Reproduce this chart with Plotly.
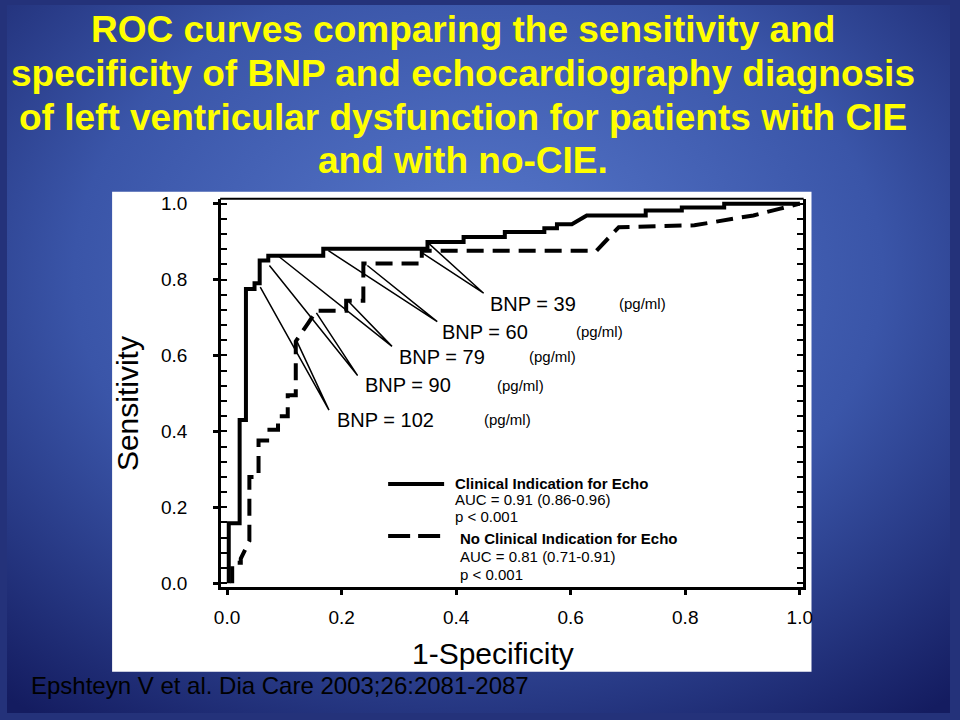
import base64
import plotly.graph_objects as go

W, H = 960, 720

# ---------------- data ----------------
clin_fpr = [0.003, 0.003, 0.022, 0.022, 0.033, 0.033, 0.048, 0.048, 0.057, 0.057, 0.072, 0.072,
            0.168, 0.168, 0.35, 0.35, 0.413, 0.413, 0.485, 0.485, 0.554, 0.554, 0.576, 0.576,
            0.602, 0.628, 0.731, 0.731, 0.794, 0.794, 0.868, 0.868, 1.0]
clin_sens = [0.0, 0.158, 0.158, 0.43, 0.43, 0.775, 0.775, 0.79, 0.79, 0.85, 0.85, 0.863,
             0.863, 0.881, 0.881, 0.899, 0.899, 0.912, 0.912, 0.925, 0.925, 0.935, 0.935, 0.946,
             0.946, 0.969, 0.969, 0.982, 0.982, 0.99, 0.99, 1.0, 1.0]

noclin_fpr = [0.009, 0.009, 0.024, 0.024, 0.039, 0.039, 0.055, 0.055, 0.07, 0.07, 0.089, 0.089,
              0.106, 0.106, 0.12, 0.12, 0.142, 0.156, 0.208, 0.208, 0.238, 0.238, 0.34, 0.34,
              0.645, 0.684, 0.816, 0.873, 0.919, 0.966, 1.0]
noclin_sens = [0.0, 0.054, 0.054, 0.065, 0.111, 0.28, 0.28, 0.376, 0.376, 0.404, 0.404, 0.44,
               0.44, 0.495, 0.495, 0.637, 0.686, 0.718, 0.718, 0.744, 0.744, 0.842, 0.842, 0.876,
               0.876, 0.938, 0.943, 0.956, 0.969, 0.987, 1.0]

tick_vals = [0.0, 0.2, 0.4, 0.6, 0.8, 1.0]
tick_text = ["0.0", "0.2", "0.4", "0.6", "0.8", "1.0"]

bnp_labels = ["BNP = 39", "BNP = 60", "BNP = 79", "BNP = 90", "BNP = 102"]
bnp_label_x = [0.456, 0.372, 0.297, 0.237, 0.189]
bnp_label_y = [0.736, 0.663, 0.596, 0.521, 0.430]
unit_label_x = [0.681, 0.605, 0.523, 0.468, 0.446]
# pointer lines: anchor near the label, target on each curve
ptr_anchor_x = [0.448, 0.367, 0.288, 0.228, 0.178]
ptr_anchor_y = [0.764, 0.689, 0.624, 0.547, 0.456]
ptr_clin_x = [0.353, 0.177, 0.091, 0.074, 0.058]
ptr_clin_y = [0.894, 0.876, 0.860, 0.837, 0.780]
ptr_noclin_x = [0.338, 0.245, 0.213, 0.156, 0.122]
ptr_noclin_y = [0.873, 0.837, 0.741, 0.712, 0.637]

title_lines = ["ROC curves comparing the sensitivity and",
               "specificity of BNP and echocardiography diagnosis",
               "of left ventricular dysfunction for patients with CIE",
               "and with no-CIE."]
legend_clin = ["Clinical Indication for Echo", "AUC = 0.91 (0.86-0.96)", "p < 0.001"]
legend_noclin = ["No Clinical Indication for Echo", "AUC = 0.81 (0.71-0.91)", "p < 0.001"]
footer = "Epshteyn V et al. Dia Care 2003;26:2081-2087"

FONT = "Arial, 'Liberation Sans', sans-serif"


def px(x):
    return x / W


def py(y):
    return 1 - y / H


# ---------------- figure ----------------
fig = go.Figure()

fig.add_trace(go.Scatter(x=clin_fpr, y=clin_sens, mode="lines",
                         line=dict(color="black", width=4), hoverinfo="skip"))
fig.add_trace(go.Scatter(x=noclin_fpr, y=noclin_sens, mode="lines",
                         line=dict(color="black", width=4, dash="17px,9px"), hoverinfo="skip"))

for i in range(len(bnp_labels)):
    fig.add_trace(go.Scatter(x=[ptr_clin_x[i], ptr_anchor_x[i], ptr_noclin_x[i]],
                             y=[ptr_clin_y[i], ptr_anchor_y[i], ptr_noclin_y[i]],
                             mode="lines", line=dict(color="black", width=1.5),
                             hoverinfo="skip"))
    fig.add_annotation(x=bnp_label_x[i], y=bnp_label_y[i], xref="x", yref="y",
                       text=bnp_labels[i], showarrow=False, xanchor="left", yanchor="middle",
                       font=dict(family=FONT, size=20, color="black"))
    fig.add_annotation(x=unit_label_x[i], y=bnp_label_y[i], xref="x", yref="y",
                       text="(pg/ml)", showarrow=False, xanchor="left", yanchor="middle",
                       font=dict(family=FONT, size=15, color="black"))

# right axis with inner ticks
fig.add_trace(go.Scatter(x=[None], y=[None], yaxis="y2", showlegend=False, hoverinfo="skip"))

# background gradient
svg = ('<svg xmlns="http://www.w3.org/2000/svg" width="960" height="720">'
       '<defs><radialGradient id="g" cx="50%" cy="38%" r="78%">'
       '<stop offset="0" stop-color="#5879cc"/>'
       '<stop offset="0.55" stop-color="#3a55a8"/>'
       '<stop offset="1" stop-color="#141c60"/></radialGradient></defs>'
       '<rect width="960" height="720" fill="url(#g)"/></svg>')
src = "data:image/svg+xml;base64," + base64.b64encode(svg.encode()).decode()
fig.add_layout_image(dict(source=src, xref="paper", yref="paper", x=0, y=1,
                          sizex=1, sizey=1, xanchor="left", yanchor="top",
                          sizing="stretch", layer="below"))

# white panel
fig.add_shape(type="rect", xref="paper", yref="paper",
              x0=px(107), x1=px(819), y0=py(678), y1=py(190),
              fillcolor="white", line=dict(width=0), layer="below")
# top frame line
fig.add_shape(type="line", xref="paper", yref="paper",
              x0=px(217), x1=px(811), y0=py(197), y1=py(197),
              line=dict(color="black", width=2))

# title
title_y = [25, 70, 114, 158]
for t, yy in zip(title_lines, title_y):
    fig.add_annotation(x=px(464), y=py(yy), xref="paper", yref="paper", text="<b>%s</b>" % t,
                       showarrow=False, xanchor="center", yanchor="middle",
                       font=dict(family=FONT, size=37, color="#ffff00"))

# axis titles
fig.add_annotation(x=px(122), y=py(405), xref="paper", yref="paper", text="Sensitivity",
                   showarrow=False, textangle=-90, xanchor="center", yanchor="middle",
                   font=dict(family=FONT, size=30, color="black"))
fig.add_annotation(x=px(495), y=py(659), xref="paper", yref="paper", text="1-Specificity",
                   showarrow=False, xanchor="center", yanchor="middle",
                   font=dict(family=FONT, size=30, color="black"))

# legend (drawn)
fig.add_shape(type="line", xref="paper", yref="paper", x0=px(388), x1=px(445),
              y0=py(487), y1=py(487), line=dict(color="black", width=4))
fig.add_shape(type="line", xref="paper", yref="paper", x0=px(388), x1=px(445),
              y0=py(540), y1=py(540), line=dict(color="black", width=4, dash="22px,8px"))
for txt, yy, bold in zip(legend_clin, [487, 503, 520], [True, False, False]):
    fig.add_annotation(x=px(454), y=py(yy), xref="paper", yref="paper",
                       text=("<b>%s</b>" % txt) if bold else txt, showarrow=False,
                       xanchor="left", yanchor="middle",
                       font=dict(family=FONT, size=15, color="black"))
for txt, yy, bold in zip(legend_noclin, [543, 561, 579], [True, False, False]):
    fig.add_annotation(x=px(459), y=py(yy), xref="paper", yref="paper",
                       text=("<b>%s</b>" % txt) if bold else txt, showarrow=False,
                       xanchor="left", yanchor="middle",
                       font=dict(family=FONT, size=15, color="black"))

# footer
fig.add_annotation(x=px(22), y=py(692), xref="paper", yref="paper", text=footer,
                   showarrow=False, xanchor="left", yanchor="middle",
                   font=dict(family=FONT, size=24, color="black"))

yrange = [-0.0104, 1.013]
fig.update_layout(
    width=W, height=H, margin=dict(l=0, r=0, t=0, b=0),
    paper_bgcolor="#24327a", plot_bgcolor="white", showlegend=False,
    xaxis=dict(domain=[218 / W, 810 / W], range=[-0.0103, 1.005],
               tickvals=tick_vals, ticktext=tick_text, ticks="outside", ticklen=5,
               tickwidth=3, tickcolor="black", showline=True, linewidth=3, linecolor="black",
               showgrid=False, zeroline=False, ticklabelstandoff=6,
               tickfont=dict(family=FONT, size=19, color="black")),
    yaxis=dict(domain=[1 - 592 / H, 1 - 197 / H], range=yrange,
               tickvals=tick_vals, ticktext=tick_text, ticks="outside", ticklen=5,
               tickwidth=3, tickcolor="black", showline=True, linewidth=3, linecolor="black",
               showgrid=False, zeroline=False, ticklabelstandoff=22,
               minor=dict(ticks="inside", dtick=0.04, tick0=0, ticklen=6, tickwidth=2,
                          tickcolor="black", showgrid=False),
               tickfont=dict(family=FONT, size=19, color="black")),
    yaxis2=dict(overlaying="y", side="right", anchor="x", range=yrange,
                showticklabels=False, ticks="inside", dtick=0.04, tick0=0, ticklen=6,
                tickwidth=2, tickcolor="black", showline=True, linewidth=3,
                linecolor="black", showgrid=False, zeroline=False),
)

fig.write_html("out.html")
